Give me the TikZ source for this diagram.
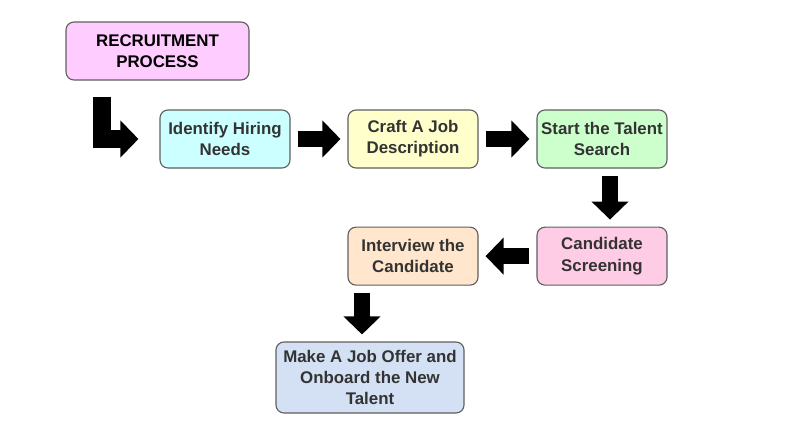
\documentclass[tikz,border=0pt]{standalone}
\usepackage{fontspec}
\setmainfont{Liberation Sans}
\usetikzlibrary{positioning,arrows.meta}
\definecolor{txtgray}{HTML}{333333}
\definecolor{boxline}{HTML}{5F5F5F}
\definecolor{pinkA}{HTML}{FFCCFF}
\definecolor{cyanA}{HTML}{CCFFFF}
\definecolor{yellowA}{HTML}{FFFFCC}
\definecolor{greenA}{HTML}{CCFFCC}
\definecolor{pinkB}{HTML}{FFCCE6}
\definecolor{peachA}{HTML}{FFE6CC}
\definecolor{blueA}{HTML}{D4E1F5}
\begin{document}
\begin{tikzpicture}
		[stepbox/.style={draw=boxline, line width=0.8pt, rounded corners=0.2cm,
			align=center, text=txtgray, font=\fontsize{12}{15}\selectfont\bfseries,
			minimum width=3.25cm, minimum height=1.45cm, inner sep=1pt},
		fat/.style={line width=0.4cm, line join=miter,
			-{Triangle[width=0.9cm,length=0.45cm]},
			shorten <=0.175cm, shorten >=0.175cm}]
		\useasboundingbox (0,0) rectangle (20,-10.9);
		% boxes
		\node[stepbox, fill=pinkA, text=black, minimum width=4.575cm] (rec) at (3.9375,-1.275) {RECRUITMENT\\PROCESS};
		\node[stepbox, fill=cyanA] (ident) at (5.625,-3.475) {Identify Hiring\\Needs};
		\node[stepbox, fill=yellowA] (craft) at (10.325,-3.475) {Craft A Job\\Description};
		\node[stepbox, fill=greenA] (search) at (15.05,-3.475) {Start the Talent\\Search};
		\node[stepbox, fill=pinkB, below=1.45cm of search] (screen) {Candidate\\Screening};
		\node[stepbox, fill=peachA] (interview) at (craft |- screen) {Interview the\\Candidate};
		\node[stepbox, fill=blueA, minimum width=4.7cm, minimum height=1.775cm] (offer) at (9.25,-9.4375) {Make A Job Offer and\\Onboard the New\\Talent};
		% arrows
		\draw[fat, line width=0.46cm, shorten <=0.4cm, shorten >=0.525cm] ([xshift=-1.3875cm]rec.south) |- (ident.west);
		\draw[fat] (ident) -- (craft);
		\draw[fat] (craft) -- (search);
		\draw[fat] ([xshift=0.2cm]search.south) -- ([xshift=0.2cm]screen.north);
		\draw[fat] (screen) -- (interview);
		\draw[fat] ([xshift=-1.275cm]interview.south) -- ([xshift=-1.275cm]interview.south |- offer.north);
	\end{tikzpicture}
\end{document}
